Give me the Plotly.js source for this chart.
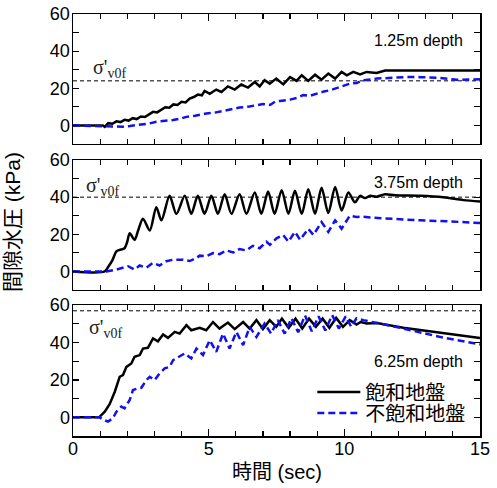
<!DOCTYPE html>
<html>
<head>
<meta charset="utf-8">
<script src="https://cdn.plot.ly/plotly-3.0.1.min.js"></script>
<style>html,body{margin:0;padding:0;background:#fff;}#chart{width:497px;height:488px;}</style>
</head>
<body>
<div id="chart"></div>
<script>
// ---- data ----
const seriesNames = ['飽和地盤', '不飽和地盤'];
const depthLabels = ['1.25m depth', '3.75m depth', '6.25m depth'];
const sigmaRef = [24, 40, 57];
const xTickVals = [0, 5, 10, 15];
const yTickVals = [0, 20, 40, 60];

// panel 1 (1.25 m)
const t1Sat = [0,1.0,1.1,1.17,1.3,1.45,1.6,1.75,1.9,2.05,2.2,2.35,2.5,2.65,2.8,2.95,3.1,3.25,3.4,3.55,3.7,3.85,4.0,4.15,4.3,4.45,4.6,4.75,4.85,5.04,5.28,5.47,5.71,5.96,6.2,6.45,6.7,6.88,7.06,7.25,7.49,7.75,8.0,8.24,8.43,8.67,8.92,9.16,9.41,9.66,9.9,10.09,10.33,10.58,10.82,11.19,11.5,11.93,13.0,14.0,15];
const p1Sat = [0,0,0,-0.8,1.2,0.9,2.2,1.8,3.0,2.6,3.9,3.4,4.8,4.5,6.0,7.3,7.0,8.2,9.8,9.5,11.3,11.0,12.7,12.4,14.5,15.3,16.6,16.2,18.6,17,19.3,18,21,19.3,22,20.4,23.4,21,24.3,22.5,25.2,22.1,26,24,27,24,27.3,24.6,27.9,25.2,28.8,27,28.8,27.5,28.8,28.2,29.6,29.6,29.7,29.6,29.6];
const t1Uns = [0,1.35,1.6,1.84,2.1,2.46,2.8,3.07,3.4,3.69,4.0,4.18,4.5,4.91,5.2,5.53,5.8,6.14,6.5,6.76,7.0,7.26,7.45,7.63,8.0,8.25,8.49,8.75,8.98,9.25,9.47,9.84,10.21,10.45,10.7,11.19,11.6,11.93,12.3,12.79,13.4,14.14,15];
const p1Uns = [0,-0.3,-0.6,-0.7,-0.3,0.2,1.0,2.0,2.3,2.9,3.8,4.6,5.2,6.4,6.8,7.9,8.6,9.6,10.2,10.9,11.5,11.0,12.8,13.2,13.9,14.8,16.3,16.0,17.1,18.3,18.9,20.7,22.5,22.8,24.3,25.2,25.6,26,26.1,26,25.7,24.6,24.8];

// panel 2 (3.75 m)
const t2Sat = [0,1.17,1.3,1.45,1.6,1.72,1.9,2.0,2.09,2.27,2.4,2.58,2.83,3.07,3.26,3.56,3.81,4.12,4.36,4.6,4.85,5.1,5.34,5.59,5.84,6.14,6.39,6.7,6.94,7.19,7.43,7.69,7.94,8.18,8.43,8.67,8.92,9.16,9.41,9.66,9.9,10.15,10.39,10.58,10.76,10.95,11.19,11.5,11.87,12.79,13.65,14.39,15];
const p2Sat = [0,0,2.5,6,10.8,11.6,12.5,16,20.5,17,22,28.4,22,34.6,27.5,40.7,31,40.7,31,40.7,31,40.7,31,41.6,31,41.6,31,42.5,31,43,31,43.7,31,43.4,31,44.3,31,45,31.4,45.5,32.8,42.5,37.2,40.7,39.5,40.7,40.2,41.6,41,40.7,39.9,38.4,37.7];
const t2Uns = [0,1.23,1.6,1.84,2.03,2.27,2.46,2.7,2.95,3.19,3.44,3.69,4.05,4.3,4.55,4.67,4.91,5.16,5.4,5.65,5.9,6.14,6.39,6.63,6.88,7.13,7.26,7.5,7.75,7.94,8.18,8.37,8.67,8.86,9.16,9.41,9.66,9.9,10.2,10.45,10.64,10.95,11.56,12.79,13.77,15];
const p2Uns = [0,0,1,2,2.8,1,3.2,2,4.6,3.2,5.5,6.3,6.3,5.6,7.2,8.5,8.1,9.9,9.3,11.3,10.2,12,11.3,13.8,12.5,16,14.3,17.8,19.6,16,21.3,17,23,19.6,26.6,21.3,27.5,23,30,29.3,29.6,29,28.4,27.5,27,26.1];

// panel 3 (6.25 m)
const t3Sat = [0,0.96,1.17,1.35,1.54,1.72,1.84,1.97,2.15,2.27,2.46,2.58,2.76,2.95,3.13,3.32,3.5,3.75,3.93,4.18,4.36,4.67,4.91,5.16,5.4,5.71,5.96,6.27,6.51,6.76,7.0,7.25,7.49,7.7,7.95,8.2,8.45,8.7,8.95,9.2,9.45,9.7,9.95,10.2,10.45,10.6,10.82,11.2,12.17,13.4,15];
const p3Sat = [0,0,3,7,13.7,21.7,22.6,27,28.8,32.4,33.3,36.8,37.2,42.2,40.7,44.3,42.5,45.7,44.8,49.3,46.6,47.9,46.6,51,47.5,50.7,47.2,51,47.5,52,47.2,52,48.4,52.8,47.9,52.8,47.5,52.8,48.4,52.8,47.9,53.2,48.4,52,49.6,51,50.2,50.4,47.9,45.7,42.5];
const t3Uns = [0,0.98,1.15,1.29,1.47,1.6,1.78,1.9,2.09,2.21,2.4,2.52,2.7,2.83,3.01,3.19,3.38,3.56,3.69,3.93,4.12,4.36,4.55,4.79,5.04,5.28,5.53,5.77,6.02,6.27,6.51,6.76,7.06,7.3,7.55,7.8,8.05,8.3,8.55,8.8,9.05,9.3,9.55,9.8,10.05,10.25,10.45,10.7,11.06,12.05,13.5,15];
const p3Uns = [0,0,-1.5,-2.3,-0.5,3,5.7,4.8,9.3,14.6,15.5,15.8,19.9,21.7,19.9,23.5,26.2,27,30.6,32.4,34.2,31.5,36.8,33.3,41.3,35,44.8,36.8,45.7,38.6,48.4,43,50.2,44.8,52,44.8,53,45.5,54.5,46,54,46.5,54.7,47.5,54,48.5,53,52,50.8,47.9,43.1,39];

const tSat = [t1Sat, t2Sat, t3Sat], pSat = [p1Sat, p2Sat, p3Sat];
const tUns = [t1Uns, t2Uns, t3Uns], pUns = [p1Uns, p2Uns, p3Uns];

// ---- style ----
const latin = 'Liberation Sans, Arial, Noto Sans CJK JP, sans-serif';
const cjk = 'Liberation Sans, Noto Sans CJK JP, sans-serif';
const domains = [[0.692, 1], [0.346, 0.654], [0, 0.310]];
const sigmaPos = [[0.68, 30.5], [0.42, 45.9], [0.52, 47.5]];
const depthPos = [[14.45, 46], [14.45, 48], [14.45, 30.1]];

const legendBase = {x: 0.588, xanchor: 'left', yanchor: 'top', bgcolor: 'rgba(0,0,0,0)',
  font: {family: cjk, size: 20, color: '#000'}, itemwidth: 43, borderwidth: 0};

const traces = [];
const layout = {
  width: 497, height: 488,
  margin: {l: 73, r: 17, t: 14, b: 52},
  paper_bgcolor: '#fff', plot_bgcolor: '#fff',
  showlegend: true,
  legend: Object.assign({}, legendBase, {y: 0.1505}),
  legend2: Object.assign({}, legendBase, {y: 0.1007}),
  annotations: [], shapes: []
};

for (let k = 0; k < 3; k++) {
  const n = k + 1;
  const xa = 'x' + (n === 1 ? '' : n), ya = 'y' + (n === 1 ? '' : n);
  traces.push({x: tSat[k], y: pSat[k], xaxis: xa, yaxis: ya, type: 'scatter', mode: 'lines',
    name: seriesNames[0], showlegend: k === 2, legend: 'legend',
    line: {color: '#000', width: 2.5, shape: k === 1 ? 'spline' : 'linear', smoothing: 0.8}});
  traces.push({x: tUns[k], y: pUns[k], xaxis: xa, yaxis: ya, type: 'scatter', mode: 'lines',
    name: seriesNames[1], showlegend: k === 2, legend: 'legend2',
    line: {color: '#1010f0', width: 2.5, dash: '7px,4px'}});
  const axKeyX = 'xaxis' + (n === 1 ? '' : n), axKeyY = 'yaxis' + (n === 1 ? '' : n);
  layout[axKeyX] = {
    domain: [0, 1], anchor: ya, range: [0, 15], tickvals: xTickVals, ticktext: xTickVals.map(String),
    showticklabels: k === 2, ticks: 'inside', ticklen: 7, tickwidth: 1.2, tickcolor: '#000',
    ticklabelstandoff: -4,
    minor: {dtick: 1, ticks: 'inside', ticklen: 5, tickwidth: 1.2, tickcolor: '#000'},
    showline: true, linecolor: '#000', linewidth: 1.5, mirror: 'ticks', showgrid: false, zeroline: false,
    tickfont: {family: latin, size: 18, color: '#000'}
  };
  layout[axKeyY] = {
    domain: domains[k], anchor: xa, range: [-10, 60], tickvals: yTickVals, ticktext: yTickVals.map(String),
    ticks: 'inside', ticklen: 6, tickwidth: 1.2, tickcolor: '#000',
    ticklabelstandoff: -2,
    minor: {tickvals: [-10, 10, 30, 50], ticks: 'inside', ticklen: 6, tickwidth: 1.2, tickcolor: '#000'},
    showline: true, linecolor: '#000', linewidth: 1.5, mirror: 'ticks', showgrid: false, zeroline: false,
    tickfont: {family: latin, size: 18, color: '#000'}
  };
  layout.shapes.push({type: 'line', xref: xa + ' domain', x0: 0, x1: 1, yref: ya, y0: sigmaRef[k], y1: sigmaRef[k],
    line: {color: '#000', width: 1, dash: '4px,3px'}, layer: 'below'});
  layout.annotations.push({xref: xa, yref: ya, x: sigmaPos[k][0], y: sigmaPos[k][1], xanchor: 'left', yanchor: 'middle',
    text: "σ'<sub>v0f</sub>", showarrow: false, font: {family: 'Liberation Serif, Times New Roman, serif', size: 20, color: '#222'}});
  layout.annotations.push({xref: xa, yref: ya, x: depthPos[k][0], y: depthPos[k][1], xanchor: 'right', yanchor: 'middle',
    text: depthLabels[k], showarrow: false, font: {family: latin, size: 16, color: '#000'}});
}
layout.annotations.push({xref: 'paper', yref: 'paper', x: -0.15, y: 0.507, xanchor: 'center', yanchor: 'middle',
  textangle: -90, text: '間隙水圧 (kPa)', showarrow: false, font: {family: cjk, size: 21, color: '#000'}});
layout.annotations.push({xref: 'paper', yref: 'paper', x: 0.5, y: -0.085, xanchor: 'center', yanchor: 'middle',
  text: '時間 (sec)', showarrow: false, font: {family: cjk, size: 20, color: '#000'}});

Plotly.newPlot('chart', traces, layout, {displayModeBar: false, staticPlot: true});
</script>
</body>
</html>
